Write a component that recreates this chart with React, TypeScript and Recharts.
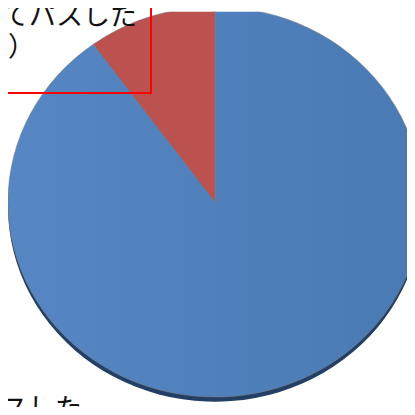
import { PieChart, Pie, Cell } from "recharts";

const categories = ["すべてパスした", "一部を除いてパスした"];
const values = [90, 10];
const colors = ["url(#blueFace)", "#bb524f"];
const shadowColor = "#243f66";

const data = categories.map((name, i) => ({ name, value: values[i] }));

const labelText = {
  position: "absolute" as const,
  fontSize: 27,
  lineHeight: "33px",
  color: "#111",
  whiteSpace: "nowrap" as const,
};

export default function App() {
  return (
    <div
      style={{
        position: "relative",
        width: 415,
        height: 415,
        margin: -8,
        overflow: "hidden",
        background: "#fff",
        fontFamily: '"Noto Sans CJK JP", "Noto Sans", sans-serif',
      }}
    >
      <div
        style={{
          position: "absolute",
          left: 0,
          top: 0,
          transform: "scale(1, 0.942)",
          transformOrigin: "215px 202px",
        }}
      >
        <PieChart width={440} height={440} margin={{ top: 0, right: 0, bottom: 0, left: 0 }}>
          <defs>
            <linearGradient id="blueFace" x1="0" y1="0" x2="1" y2="0">
              <stop offset="0%" stopColor="#5687c4" />
              <stop offset="100%" stopColor="#4a7ab3" />
            </linearGradient>
          </defs>
          <Pie
            data={data}
            dataKey="value"
            cx={215}
            cy={207}
            outerRadius={207}
            startAngle={90}
            endAngle={-270}
            stroke="none"
            fill={shadowColor}
            isAnimationActive={false}
          />
          <Pie
            data={data}
            dataKey="value"
            cx={215}
            cy={202}
            outerRadius={207}
            startAngle={90}
            endAngle={-270}
            stroke="#7a7f8a"
            strokeWidth={0.6}
            isAnimationActive={false}
          >
            {data.map((d, i) => (
              <Cell key={d.name} fill={colors[i]} />
            ))}
          </Pie>
        </PieChart>
      </div>
      {/* red-framed label, top left (cut off by the frame) */}
      <div
        style={{
          position: "absolute",
          left: -60,
          top: -20,
          width: 208,
          height: 110,
          border: "2px solid #ff0000",
        }}
      />
      <div style={{ ...labelText, right: 415 - 137, top: -3 }}>{categories[1]}</div>
      <div style={{ ...labelText, right: 415 - 35, top: 28 }}>（{values[1]}%）</div>
      <div style={{ ...labelText, right: 415 - 82, top: 390 }}>{categories[0]}</div>
    </div>
  );
}
